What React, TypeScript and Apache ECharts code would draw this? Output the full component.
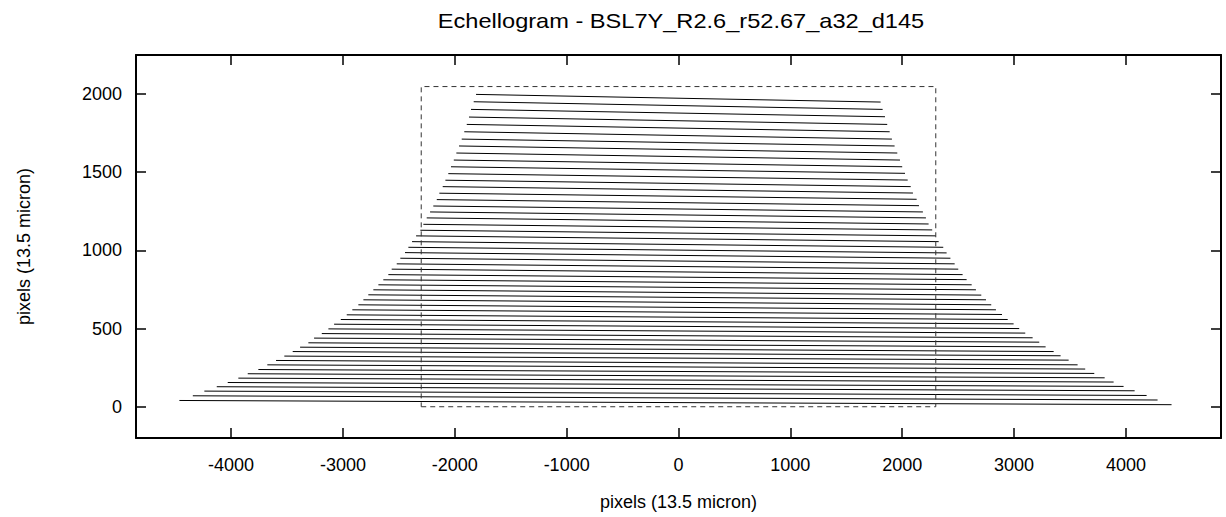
import React, { useEffect, useRef } from "react";
import * as echarts from "echarts";

const TITLE = "Echellogram - BSL7Y_R2.6_r52.67_a32_d145";
const X_NAME = "pixels (13.5 micron)";
const Y_NAME = "pixels (13.5 micron)";

const xTicks = [-4000, -3000, -2000, -1000, 0, 1000, 2000, 3000, 4000];
const yTicks = [0, 500, 1000, 1500, 2000];

// Echelle orders: left end (x, y) and right end (x, y), top order first
const leftX = [
  -1810, -1831, -1855, -1873, -1893, -1915, -1938, -1962, -1986, -2009,
  -2034, -2058, -2084, -2108, -2138, -2161, -2192, -2221, -2251, -2281,
  -2308, -2346, -2382, -2415, -2445, -2487, -2519, -2564, -2594, -2639,
  -2683, -2728, -2773, -2817, -2862, -2916, -2966, -3019, -3079, -3130,
  -3189, -3258, -3309, -3383, -3449, -3524, -3598, -3676, -3756, -3851,
  -3935, -4030, -4128, -4239, -4342, -4462,
];
const leftY = [
  1998, 1951, 1902, 1853, 1806, 1759, 1712, 1668, 1623, 1578,
  1535, 1491, 1449, 1408, 1366, 1325, 1284, 1246, 1208, 1167,
  1129, 1093, 1056, 1020, 986, 950, 914, 880, 845, 812,
  780, 748, 716, 684, 652, 620, 588, 558, 528, 498,
  468, 439, 409, 381, 353, 324, 296, 268, 238, 211,
  183, 155, 128, 100, 70, 40,
];
const rightX = [
  1807, 1825, 1846, 1866, 1888, 1908, 1932, 1956, 1980, 2000,
  2025, 2049, 2076, 2096, 2129, 2150, 2185, 2212, 2236, 2268,
  2300, 2326, 2367, 2397, 2431, 2469, 2501, 2540, 2576, 2621,
  2659, 2707, 2749, 2796, 2838, 2892, 2943, 2996, 3046, 3100,
  3166, 3225, 3282, 3354, 3416, 3488, 3568, 3636, 3717, 3810,
  3890, 3979, 4078, 4185, 4283, 4408,
];
const rightY = [
  1949, 1902, 1855, 1806, 1759, 1712, 1668, 1623, 1578, 1535,
  1493, 1450, 1408, 1367, 1327, 1286, 1246, 1208, 1169, 1131,
  1093, 1056, 1020, 984, 950, 914, 880, 845, 813, 780,
  748, 714, 684, 652, 620, 590, 558, 530, 500, 471,
  441, 413, 383, 353, 326, 298, 268, 241, 213, 185,
  158, 130, 102, 72, 43, 13,
];

// Detector outline
const detX = [-2300, 2300, 2300, -2300, -2300];
const detY = [0, 0, 2048, 2048, 0];

const FONT = "Liberation Sans, Arial, Helvetica, sans-serif";

export default function App() {
  const ref = useRef<HTMLDivElement>(null);
  useEffect(() => {
    if (!ref.current) return;
    const chart = echarts.init(ref.current, undefined, { renderer: "svg" });
    const axisLine = { show: true, onZero: false, lineStyle: { color: "#000", width: 2 } };
    const xBase = {
      type: "value" as const,
      min: -4850,
      max: 4850,
      splitLine: { show: false },
      axisLine,
    };
    const yBase = {
      type: "value" as const,
      min: -200,
      max: 2250,
      splitLine: { show: false },
      axisLine,
    };
    const tickX = { show: true, inside: true, length: 10, customValues: xTicks, lineStyle: { color: "#000", width: 1.5 } };
    const tickY = { show: true, inside: true, length: 10, customValues: yTicks, lineStyle: { color: "#000", width: 1.5 } };
    const fmt = (v: number) => String(v);
    chart.setOption({
      animation: false,
      backgroundColor: "#fff",
      grid: { left: 136, right: 5, top: 55, bottom: 79, containLabel: false },
      xAxis: [
        {
          ...xBase,
          position: "bottom",
          axisTick: tickX,
          axisLabel: { show: true, customValues: xTicks, formatter: fmt, color: "#000", fontSize: 18, fontFamily: FONT, margin: 18 },
          name: X_NAME,
          nameLocation: "middle",
          nameGap: 55,
          nameTextStyle: { color: "#000", fontSize: 18, fontFamily: FONT },
        },
        {
          ...xBase,
          position: "top",
          axisTick: tickX,
          axisLabel: { show: false },
        },
      ],
      yAxis: [
        {
          ...yBase,
          position: "left",
          axisTick: tickY,
          axisLabel: { show: true, customValues: yTicks, formatter: fmt, color: "#000", fontSize: 18, fontFamily: FONT, margin: 14 },
          name: Y_NAME,
          nameLocation: "middle",
          nameGap: 103,
          nameRotate: 90,
          nameTextStyle: { color: "#000", fontSize: 18, fontFamily: FONT },
        },
        {
          ...yBase,
          position: "right",
          axisTick: tickY,
          axisLabel: { show: false },
        },
      ],
      graphic: [
        {
          type: "text",
          x: 681,
          y: 21,
          scaleX: 1.18,
          style: {
            text: TITLE,
            fill: "#000",
            font: `20px ${FONT}`,
            textAlign: "center",
            textVerticalAlign: "middle",
          },
        },
      ],
      series: [
        {
          type: "lines",
          coordinateSystem: "cartesian2d",
          xAxisIndex: 0,
          yAxisIndex: 0,
          silent: true,
          lineStyle: { color: "#000", width: 1, opacity: 1 },
          data: leftX.map((x, i) => ({
            coords: [
              [x, leftY[i]],
              [rightX[i], rightY[i]],
            ],
          })),
        },
        {
          type: "line",
          xAxisIndex: 0,
          yAxisIndex: 0,
          silent: true,
          symbol: "none",
          lineStyle: { color: "#333", width: 1, type: [5, 4] },
          data: detX.map((x, i) => [x, detY[i]]),
        },
      ],
    });
    return () => chart.dispose();
  }, []);
  return (
    <div
      ref={ref}
      style={{ position: "fixed", left: 0, top: 0, width: 1226, height: 517, background: "#fff" }}
    />
  );
}
